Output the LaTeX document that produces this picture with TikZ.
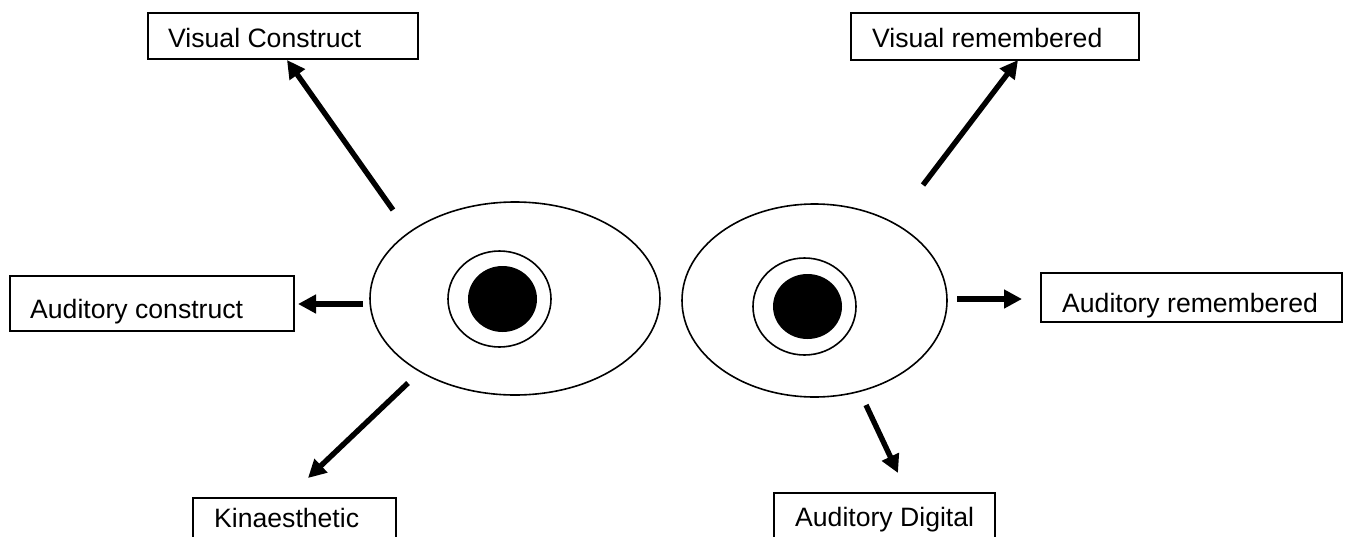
\documentclass[tikz,border=0pt]{standalone}
\usepackage{fontspec}
\setmainfont{Liberation Sans}
\usetikzlibrary{arrows.meta,shapes.geometric}

\begin{document}
\begin{tikzpicture}[x=1pt,y=-1pt,
  box/.style={draw,line width=1.7pt,anchor=north west,inner sep=0pt},
  lbl/.style={anchor=base west,inner sep=0pt,font=\fontsize{26.6}{31}\selectfont},
  eyeball/.style={draw,ellipse,line width=1.6pt,inner sep=0pt},
  iris/.style={draw,ellipse,line width=1.6pt,inner sep=0pt,fill=white},
  pupil/.style={ellipse,fill=black,inner sep=0pt},
  gaze/.style={line width=5.4pt,-{Triangle[length=18pt,width=18pt]}}]

\clip (0,0) rectangle (1346,536);
\fill[white] (0,0) rectangle (1346,536);

% eyes
\node[eyeball,minimum width=290pt,minimum height=193pt] (leye) at (515,298.5) {};
\node[iris,minimum width=103pt,minimum height=96pt] (liris) at (499.5,299) {};
\node[pupil,minimum width=69pt,minimum height=66pt] (lpupil) at (502.5,299) {};

\node[eyeball,minimum width=265pt,minimum height=193pt] (reye) at (814.5,300.5) {};
\node[iris,minimum width=103pt,minimum height=97pt] (riris) at (804.5,306.5) {};
\node[pupil,minimum width=69pt,minimum height=65pt] (rpupil) at (807.5,306.5) {};

% label boxes
\node[box,minimum width=270pt,minimum height=46pt] (vcbox) at (147,12) {};
\node[lbl] (vc) at (168,47) {Visual Construct};

\node[box,minimum width=284pt,minimum height=55pt] (acbox) at (9,275) {};
\node[lbl] (ac) at (30,318) {Auditory construct};

\node[box,minimum width=203pt,minimum height=60pt] (kbox) at (192,497) {};
\node[lbl] (k) at (214,527) {Kinaesthetic};

\node[box,minimum width=288pt,minimum height=47pt] (vrbox) at (850,12) {};
\node[lbl] (vr) at (872,47) {Visual remembered};

\node[box,minimum width=301pt,minimum height=49pt] (arbox) at (1040,272) {};
\node[lbl] (ar) at (1062,312) {Auditory remembered};

\node[box,minimum width=221pt,minimum height=60pt] (adbox) at (773,492) {};
\node[lbl] (ad) at (795,526) {Auditory Digital};

% arrow ends
\coordinate (vcs) at (393,210);  \coordinate (vct) at (287,60);
\coordinate (acs) at (363,304);  \coordinate (act) at (298,304);
\coordinate (ks)  at (408,383);  \coordinate (kt)  at (308,478);
\coordinate (vrs) at (923,185);  \coordinate (vrt) at (1018,60);
\coordinate (ars) at (957,299);  \coordinate (art) at (1022,299);
\coordinate (ads) at (866,405);  \coordinate (adt) at (898,473);

\draw[gaze] (vcs) -- (vct);
\draw[gaze] (acs) -- (act);
\draw[gaze] (ks) -- (kt);
\draw[gaze] (vrs) -- (vrt);
\draw[gaze] (ars) -- (art);
\draw[gaze] (ads) -- (adt);
\end{tikzpicture}
\end{document}
